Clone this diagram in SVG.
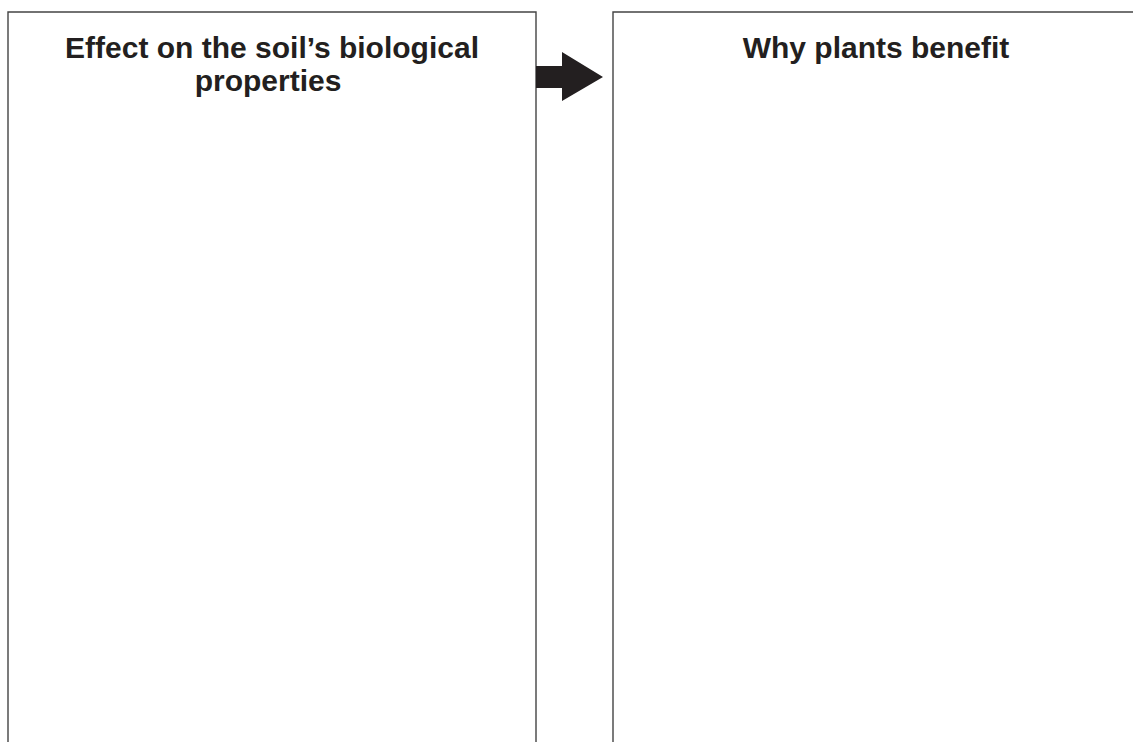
<svg xmlns="http://www.w3.org/2000/svg" width="1133" height="742" viewBox="0 0 1133 742">
<style>
.box{fill:#fff;stroke:#444;stroke-width:1.4}
.t{font-family:"Liberation Sans",Arial,sans-serif;font-weight:bold;font-size:30px;fill:#231f20;text-anchor:middle}
</style>
<rect width="1133" height="742" fill="#fff"/>
<g id="node-left">
<path class="box" d="M8,745 V12 H536 V745"/>
<text class="t" x="272" y="58">Effect on the soil’s biological</text>
<text class="t" x="268" y="91">properties</text>
</g>
<g id="node-right">
<path class="box" d="M613,745 V12 H1140 V745"/>
<text class="t" x="876" y="58">Why plants benefit</text>
</g>
<g id="connectors">
<polygon points="536,66 562,66 562,52 603,77 562,101 562,88 536,88" fill="#231f20"/>
</g>
</svg>
